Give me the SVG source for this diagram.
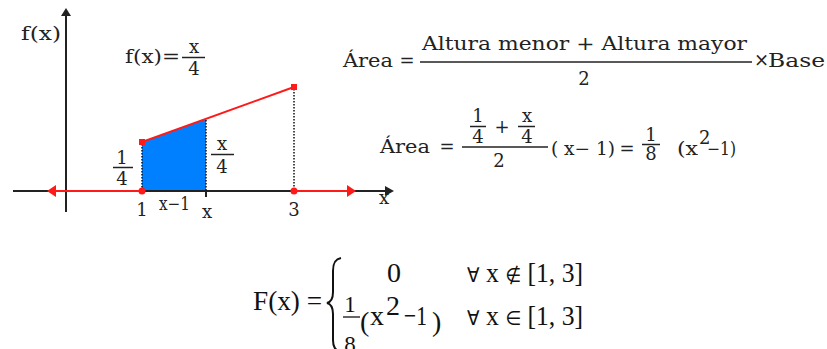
<svg xmlns="http://www.w3.org/2000/svg" width="827" height="349" viewBox="0 0 827 349">
<style>
.t{font-family:"DejaVu Serif","Liberation Serif",serif;font-size:18px;fill:#222}
.m{font-family:"DejaVu Serif","Liberation Serif",serif;font-size:18px;fill:#222;text-anchor:middle}
.b{font-family:"Liberation Serif","Times New Roman",serif;font-size:28px;fill:#111}
.bm{font-family:"Liberation Serif","Times New Roman",serif;font-size:23px;fill:#111;text-anchor:middle}
.sy{font-family:"DejaVu Sans","Liberation Serif",serif;font-size:20px}
.fl{stroke:#222;stroke-width:1.5}
.ax{stroke:#222;stroke-width:2;fill:none}
.red{stroke:#ff1a1a;stroke-width:2;fill:none}
.dot{stroke:#111;stroke-width:1.5;stroke-dasharray:1.5 1.5;fill:none}
</style>
<rect width="827" height="349" fill="#fff"/>
<g id="graph">
  <polygon id="area" points="142,142 206,119 206,191 142,191" fill="#0080ff"/>
  <line class="ax" x1="66" y1="14" x2="66" y2="212"/>
  <polygon points="66,8 61,16 71,16" fill="#222"/>
  <line class="ax" x1="13" y1="191" x2="388" y2="191"/>
  <polygon points="394,191 385,186 385,196" fill="#222"/>
  <line class="red" x1="54" y1="191" x2="142" y2="191"/>
  <line class="red" x1="294" y1="191" x2="349" y2="191"/>
  <polygon points="47,191 56,185 56,197" fill="#ff1a1a"/>
  <polygon points="356,191 347,185 347,197" fill="#ff1a1a"/>
  <line class="red" x1="142" y1="142" x2="294" y2="87"/>
  <line class="dot" x1="142" y1="144" x2="142" y2="191"/>
  <line class="dot" x1="206" y1="120" x2="206" y2="191"/>
  <line class="dot" x1="294" y1="89" x2="294" y2="191"/>
  <line class="ax" x1="206" y1="191" x2="206" y2="197" stroke-width="1.5"/>
  <rect x="139" y="139" width="6" height="6" fill="#ff1a1a"/>
  <rect x="291" y="84" width="6" height="6" fill="#ff1a1a"/>
  <circle cx="142" cy="191" r="3.5" fill="#ff1a1a"/>
  <circle cx="294" cy="191" r="3.5" fill="#ff1a1a"/>
  <text class="t" x="21" y="40" textLength="40" lengthAdjust="spacingAndGlyphs">f(x)</text>
  <text class="t" x="125" y="63" textLength="55" lengthAdjust="spacingAndGlyphs">f(x)=</text>
  <text class="m" x="194" y="53">x</text>
  <line class="fl" x1="182" y1="57.5" x2="205" y2="57.5"/>
  <text class="m" x="194" y="75">4</text>
  <text class="m" x="122" y="164">1</text>
  <line class="fl" x1="113" y1="167.5" x2="133" y2="167.5"/>
  <text class="m" x="122" y="185">4</text>
  <text class="m" x="222" y="150">x</text>
  <line class="fl" x1="211" y1="154.5" x2="234" y2="154.5"/>
  <text class="m" x="222" y="173">4</text>
  <text class="m" x="142" y="216">1</text>
  <text class="t" x="159" y="210" textLength="31" lengthAdjust="spacingAndGlyphs">x−1</text>
  <text class="m" x="207" y="218">x</text>
  <text class="m" x="294" y="216">3</text>
  <text class="m" x="384" y="204">x</text>
</g>
<g id="formula-area">
  <text class="t" x="343" y="67" textLength="50" lengthAdjust="spacingAndGlyphs">Área</text>
  <text class="m" x="407" y="67">=</text>
  <text class="t" x="422" y="50" textLength="325" lengthAdjust="spacingAndGlyphs">Altura menor + Altura  mayor</text>
  <line class="fl" x1="420" y1="62" x2="752" y2="62"/>
  <text class="m" x="584" y="85">2</text>
  <text class="t" x="754" y="66" font-size="13">×</text>
  <text class="t" x="768" y="67" textLength="57" lengthAdjust="spacingAndGlyphs">Base</text>
</g>
<g id="formula-calc">
  <text class="t" x="380" y="153" textLength="50" lengthAdjust="spacingAndGlyphs">Área</text>
  <text class="m" x="447" y="153">=</text>
  <text class="m" x="478" y="122">1</text>
  <line class="fl" x1="470" y1="126.5" x2="486" y2="126.5"/>
  <text class="m" x="478" y="143">4</text>
  <text class="m" x="502" y="133">+</text>
  <text class="m" x="527" y="122">x</text>
  <line class="fl" x1="518" y1="126.5" x2="535" y2="126.5"/>
  <text class="m" x="527" y="143">4</text>
  <line class="fl" x1="462" y1="147" x2="548" y2="147"/>
  <text class="m" x="499" y="167">2</text>
  <text class="t" x="551" y="155" textLength="64" lengthAdjust="spacingAndGlyphs">( x− 1)</text>
  <text class="m" x="627" y="155">=</text>
  <text class="m" x="651" y="141" font-size="15">1</text>
  <line class="fl" x1="642" y1="144.5" x2="660" y2="144.5"/>
  <text class="m" x="651" y="160" font-size="15">8</text>
  <text class="t" x="677" y="155" textLength="21" lengthAdjust="spacingAndGlyphs">(x</text>
  <text class="t" x="699" y="144" font-size="10">2</text>
  <text class="t" x="707" y="155" textLength="29" lengthAdjust="spacingAndGlyphs">−1)</text>
</g>
<g id="formula-F">
  <text class="b" x="253" y="310" textLength="69" lengthAdjust="spacingAndGlyphs">F(x) =</text>
  <path d="M341,258 C335,259 333,263 333,271 L333,292 C333,299 331,302 327,303 C331,304 333,307 333,314 L333,340 C333,347 335,350 341,352" fill="none" stroke="#111" stroke-width="2"/>
  <text class="b" x="394" y="282" text-anchor="middle">0</text>
  <text class="b" x="467" y="282" textLength="116" lengthAdjust="spacingAndGlyphs"><tspan class="sy">∀</tspan> x <tspan class="sy">∉</tspan> [1, 3]</text>
  <text class="bm" x="350" y="312">1</text>
  <line x1="343" y1="317" x2="360" y2="317" stroke="#111" stroke-width="1.3"/>
  <text class="bm" x="350" y="352">8</text>
  <text class="b" x="360" y="331" font-size="36">(</text>
  <text class="b" x="370" y="325">x</text>
  <text class="b" x="386" y="315" font-size="18">2</text>
  <text class="b" x="404" y="325" textLength="23" lengthAdjust="spacingAndGlyphs">−1</text>
  <text class="b" x="432" y="331" font-size="36">)</text>
  <text class="b" x="467" y="325" textLength="116" lengthAdjust="spacingAndGlyphs"><tspan class="sy">∀</tspan> x <tspan class="sy">∈</tspan> [1, 3]</text>
</g>
</svg>
